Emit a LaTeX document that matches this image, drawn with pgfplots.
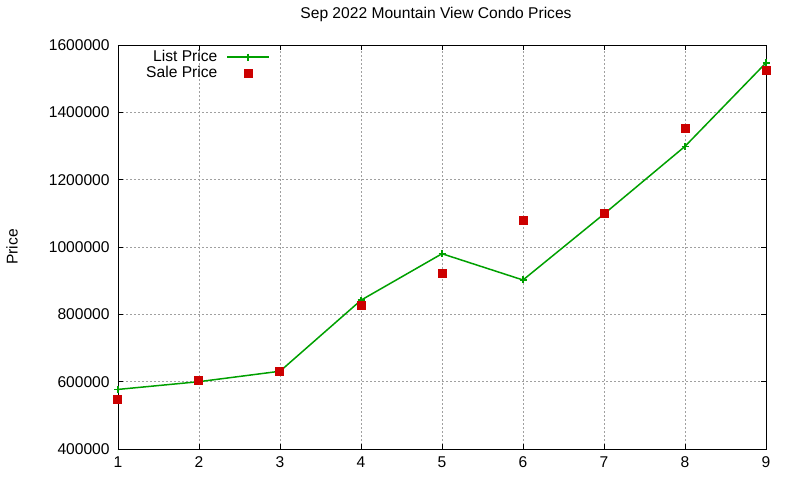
\documentclass[border=0pt]{standalone}
\usepackage{fontspec}
\setmainfont{Liberation Sans}
\usepackage{pgfplots}
\pgfplotsset{compat=1.18}
\usetikzlibrary{calc}
\definecolor{listgreen}{RGB}{0,160,0}
\definecolor{salered}{RGB}{204,0,0}
\definecolor{gridgray}{RGB}{160,160,160}
\begin{document}
\fontsize{15.6}{18}\selectfont
\begin{tikzpicture}
\begin{axis}[
  name=ax,
  scale only axis, width=648pt, height=404pt,
  xmin=1, xmax=9, ymin=400000, ymax=1600000,
  xtick={1,...,9}, ytick={400000,600000,...,1600000},
  scaled y ticks=false,
  /pgf/number format/fixed,
  /pgf/number format/1000 sep={},
  /pgf/number format/assume math mode=true,
  tick align=inside, major tick length=5pt,
  tick style={black, line width=0.8pt},
  axis line style={black, line width=0.8pt},
  xticklabel style={yshift=-2pt},
  yticklabel style={xshift=-3pt},
  grid=major,
  major grid style={gridgray, line width=0.8pt, dash pattern=on 2pt off 2pt},
  title={Sep 2022 Mountain View Condo Prices},
  title style={at={(axis description cs:0.5,1)}, anchor=center, yshift=25pt, xshift=-6pt},
  ylabel={Price},
  ylabel style={at={(axis description cs:-0.1636,0.5)}, anchor=center},
  clip=false,
  legend plot pos=right,
  legend cell align=right,
  legend image code/.code={\draw[mark repeat=2,mark phase=2,#1] plot coordinates {(0pt,0pt) (21pt,0pt) (42pt,0pt)};},
  legend style={draw=none, fill=none, inner sep=0pt,
    at={(axis description cs:0.2346,0.990)}, anchor=north east,
    nodes={inner ysep=1pt, inner xsep=3pt, text height=11pt, text depth=3pt},
    column sep=6pt},
]
\addplot[listgreen, line width=1.5pt, mark=+, mark size=3.5pt, mark options={solid, line width=1.5pt}]
  coordinates {(1,577000) (2,600000) (3,631000) (4,842000) (5,980000) (6,902000) (7,1098000) (8,1299000) (9,1547000)};
\addlegendentry{List Price}
\addplot[salered, only marks, mark=square*, mark size=4pt, mark options={fill=salered, draw=salered, line width=0pt}]
  coordinates {(1,548000) (2,603000) (3,630000) (4,826000) (5,921000) (6,1080000) (7,1100000) (8,1352000) (9,1525000)};
\addlegendentry{Sale Price}
\end{axis}
\pgfresetboundingbox
\path[use as bounding box] ($(ax.south west)+(-118pt,-31pt)$) rectangle ($(ax.north east)+(34pt,45pt)$);
\end{tikzpicture}
\end{document}
